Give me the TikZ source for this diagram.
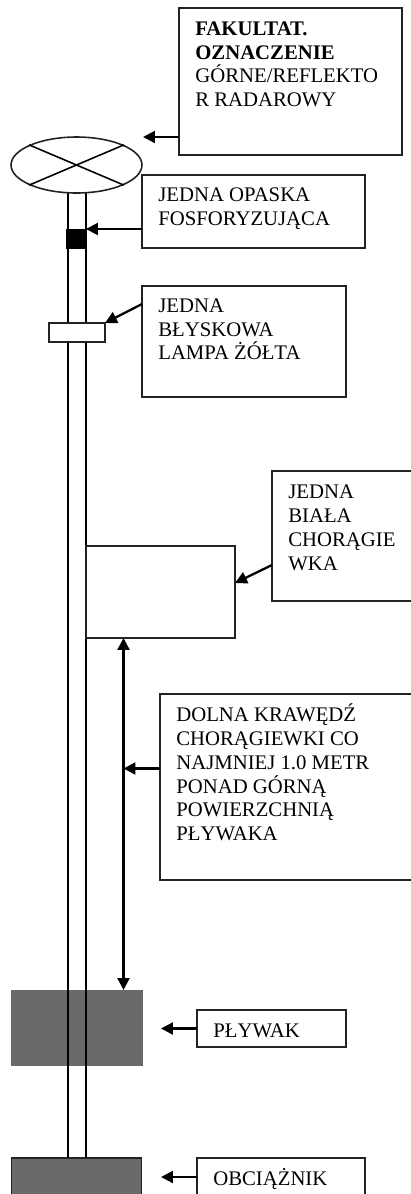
\documentclass[tikz,border=0pt]{standalone}
\usepackage{fontspec}
\setmainfont{Liberation Serif}
\usepackage{xcolor}
\usepackage{tikz}
\usetikzlibrary{shapes.geometric, arrows.meta, positioning}
\definecolor{mydark}{RGB}{35,35,35}
\definecolor{mygray}{RGB}{105,105,105}
\newcommand{\topline}{\rule{0pt}{11pt}}
\tikzset{
  labelbox/.style={rectangle, draw=mydark, fill=white, anchor=north west,
    inner sep=0pt, outer sep=0pt, line width=0.9pt},
  labeltext/.style={align=left, inner sep=0pt, text=black,
    font=\fontsize{11.8}{13.5}\selectfont},
  weight/.style={rectangle, fill=mygray, anchor=north west, inner sep=0pt, outer sep=0pt,
    minimum width=2.64cm},
  arrow/.style={-{Triangle[length=0.24cm,width=0.24cm]}, line width=1.3pt, color=black},
  measure/.style={{Triangle[length=0.24cm,width=0.24cm]}-{Triangle[length=0.24cm,width=0.24cm]},
    line width=1.3pt, color=black},
  line/.style={line width=0.9pt, color=black}
}

\begin{document}
\begin{tikzpicture}[x=0.02cm, y=-0.02cm]
  \useasboundingbox (0,0) rectangle (411,1194);

  % Float and sinker
  \node[weight, minimum height=1.52cm] (float) at (11,990) {};
  \node[weight, draw=mydark, line width=1.1pt, minimum width=2.6cm, minimum height=1cm] (sinker) at (11.5,1158) {};

  % Pole
  \foreach \x in {67.8, 86} {
    \draw[line] (\x,190) -- (\x,1158);
  }

  % Parts on the pole
  \node[rectangle, fill=black, inner sep=0pt, outer sep=0pt, minimum width=0.39cm, minimum height=0.4cm] (band) at (76.2,239) {};
  \node[labelbox, minimum width=1.12cm, minimum height=0.38cm] (lamp) at (49,323) {};
  \node[labelbox, minimum width=2.98cm, minimum height=1.84cm] (flag) at (86,546) {};
  \node[ellipse, draw=mydark, fill=white, line width=0.9pt, inner sep=0pt,
    minimum width=2.62cm, minimum height=1.12cm] (topmark) at (76.5,165) {};
  \draw[line] (topmark.23) -- (topmark.203);
  \draw[line] (topmark.157) -- (topmark.337);

  % Label boxes
  \node[labelbox, minimum width=4.46cm, minimum height=2.94cm] (fakultat) at (179,8) {};
  \node[labeltext, below right=0.155cm and 0.32cm of fakultat.north west] (fakultattext)
    {\topline\textbf{FAKULTAT.}\\\textbf{OZNACZENIE}\\GÓRNE/REFLEKTO\\R RADAROWY};
  \node[labelbox, minimum width=4.46cm, minimum height=1.46cm] (opaska) at (142,175) {};
  \node[labeltext, below right=0.145cm and 0.32cm of opaska.north west] (opaskatext)
    {\topline JEDNA OPASKA\\FOSFORYZUJĄCA};
  \node[labelbox, minimum width=4.08cm, minimum height=2.22cm] (lampa) at (142,286) {};
  \node[labeltext, below right=0.135cm and 0.32cm of lampa.north west] (lampatext)
    {\topline JEDNA\\BŁYSKOWA\\LAMPA ŻÓŁTA};
  \node[labelbox, minimum width=3cm, minimum height=2.6cm] (biala) at (272,471) {};
  \node[labeltext, below right=0.165cm and 0.32cm of biala.north west] (bialatext)
    {\topline JEDNA\\BIAŁA\\CHORĄGIE\\WKA};
  \node[labelbox, minimum width=5.2cm, minimum height=3.72cm] (dolna) at (160,694) {};
  \node[labeltext, below right=0.165cm and 0.32cm of dolna.north west] (dolnatext)
    {\topline DOLNA KRAWĘDŹ\\CHORĄGIEWKI CO\\NAJMNIEJ 1.0 METR\\PONAD GÓRNĄ\\POWIERZCHNIĄ\\PŁYWAKA};
  \node[labelbox, minimum width=2.98cm, minimum height=0.74cm] (plywak) at (197,1010) {};
  \node[labeltext, below right=0.155cm and 0.32cm of plywak.north west] (plywaktext) {\topline PŁYWAK};
  \node[labelbox, minimum width=3.36cm, minimum height=1cm] (obciaznik) at (197,1158) {};
  \node[labeltext, below right=0.165cm and 0.32cm of obciaznik.north west] (obciazniktext) {\topline OBCIĄŻNIK};

  % Free ends of the connectors
  \coordinate (fakultattip) at (143,137);
  \coordinate (lampastart) at (142,304);
  \coordinate (bialastart) at (272,565);
  \coordinate (bialatip) at (235,583);
  \coordinate (gauge) at (123.5,768.5);
  \coordinate (plywaktip) at (161,1028.5);
  \coordinate (obciazniktip) at (161,1177);

  % Connectors
  \draw[arrow] (fakultat.west |- fakultattip) -- (fakultattip);
  \draw[arrow] (opaska.west |- band.north) -- (band.north east);
  \draw[arrow] (lampastart) -- (lamp.north east);
  \draw[arrow] (bialastart) -- (bialatip);
  \draw[arrow] (dolna.west |- gauge) -- (gauge);
  \draw[measure] (flag.south -| gauge) -- (float.north -| gauge);
  \draw[arrow] (plywak.west |- plywaktip) -- (plywaktip);
  \draw[arrow] (obciaznik.west |- obciazniktip) -- (obciazniktip);
\end{tikzpicture}
\end{document}
